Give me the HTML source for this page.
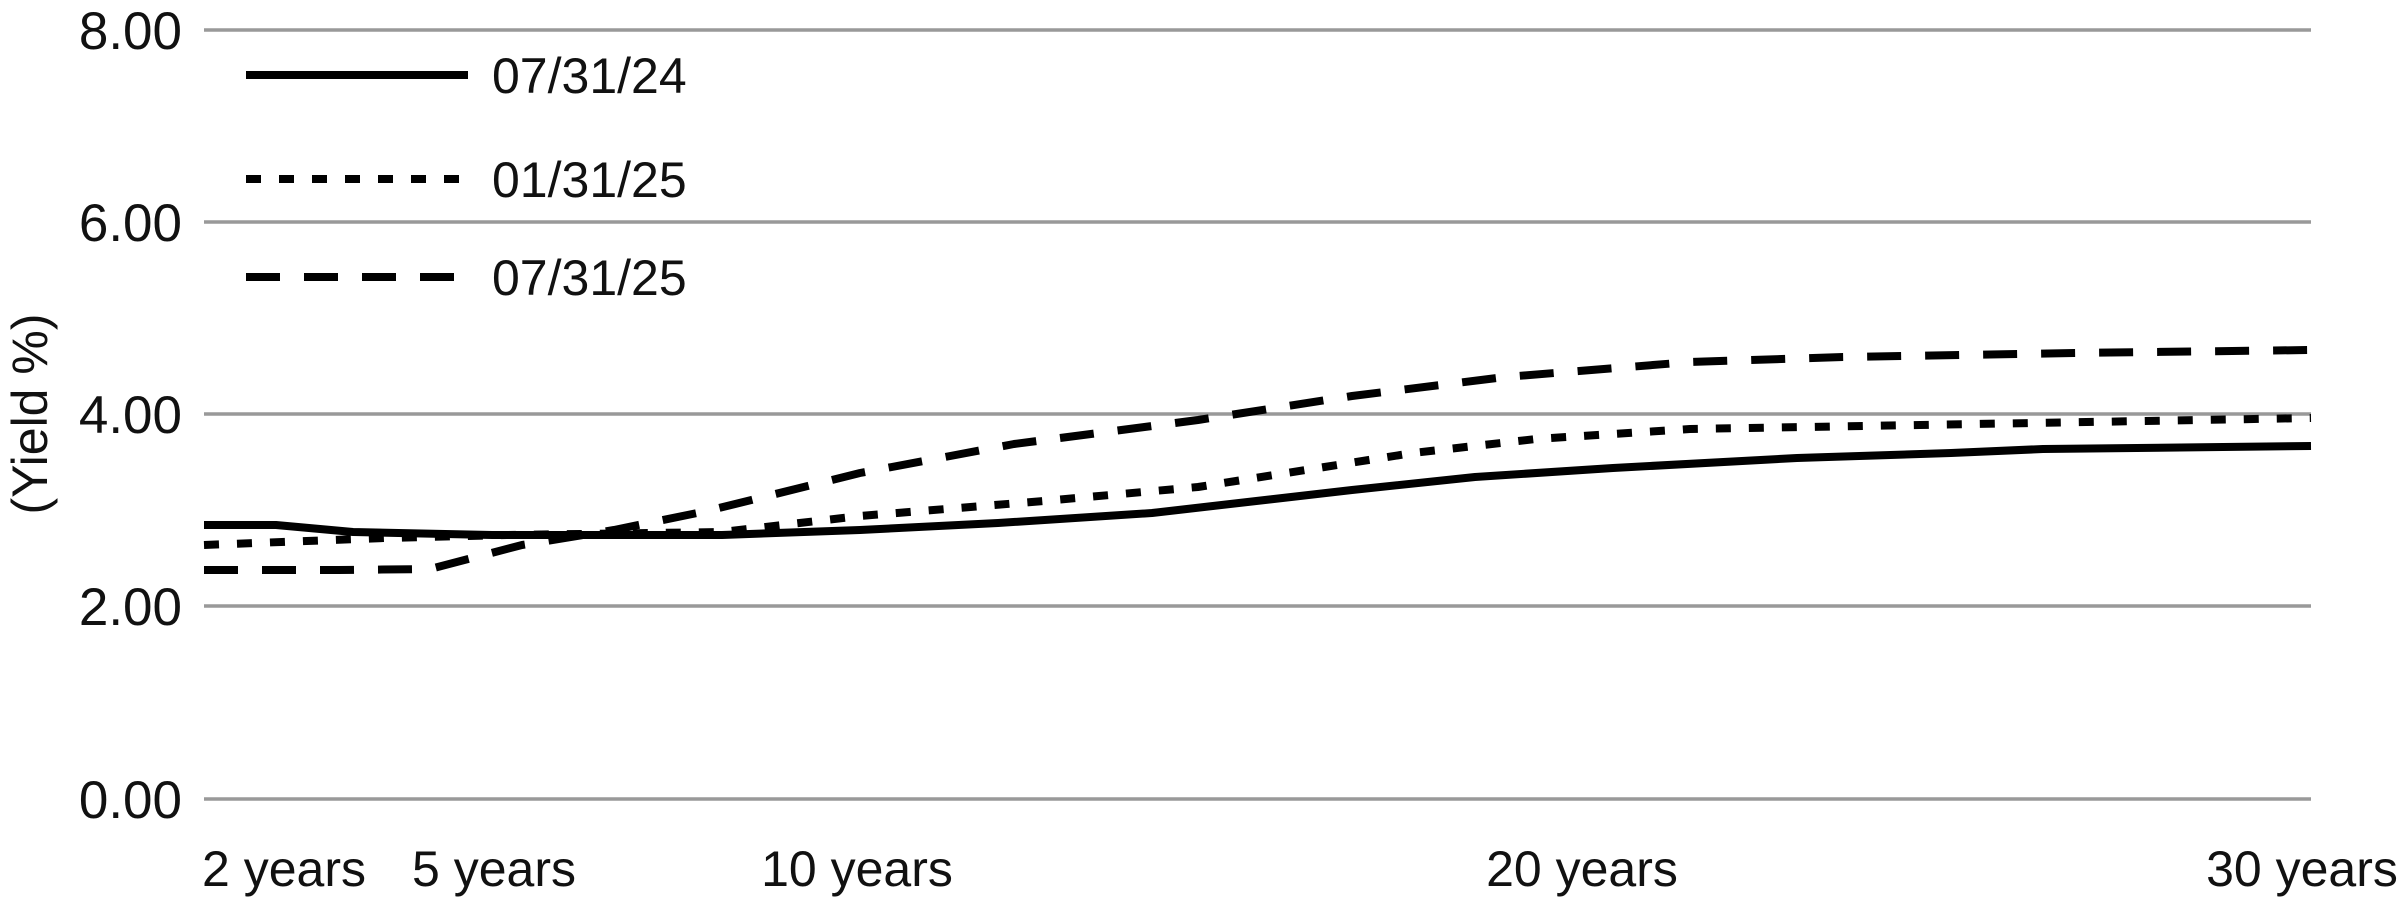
<!DOCTYPE html>
<html><head><meta charset="utf-8"><style>
html,body{margin:0;padding:0;background:#fff;}
svg{display:block;}
text{font-family:"Liberation Sans",Arial,sans-serif;fill:#111;}
</style></head><body>
<svg width="2408" height="908" viewBox="0 0 2408 908" xmlns="http://www.w3.org/2000/svg">
<g stroke="#999" stroke-width="3.5">
<line x1="204" y1="30" x2="2311" y2="30"/>
<line x1="204" y1="222" x2="2311" y2="222"/>
<line x1="204" y1="414" x2="2311" y2="414"/>
<line x1="204" y1="606" x2="2311" y2="606"/>
<line x1="204" y1="799" x2="2311" y2="799"/>
</g>
<g font-size="53" text-anchor="end">
<text x="182" y="49">8.00</text>
<text x="182" y="241">6.00</text>
<text x="182" y="433">4.00</text>
<text x="182" y="625">2.00</text>
<text x="182" y="818">0.00</text>
</g>
<text font-size="50" transform="translate(47 414) rotate(-90)" text-anchor="middle">(Yield %)</text>
<g font-size="50" text-anchor="middle">
<text x="284" y="886">2 years</text>
<text x="494" y="886">5 years</text>
<text x="857" y="886">10 years</text>
<text x="1582" y="886">20 years</text>
<text x="2302" y="886">30 years</text>
</g>
<g fill="none" stroke="#000" stroke-width="8" stroke-linejoin="round">
<polyline points="204,525 276,525 353,532 492,535 722,535 860,530 998,523 1152,513 1352,490 1475,477 1613,468 1797,458 1951,453 2043,449 2311,446"/>
<polyline stroke-dasharray="15 18" points="204,545 384,538 507,535 722,532 860,516 1044,501 1198,487 1413,453 1536,439 1690,429 1920,425 2311,418"/>
<polyline stroke-dasharray="34 24" points="204,570 338,570 430,569 522,545 614,530 707,511 860,473 1014,444 1198,420 1352,396 1505,377 1690,362 1843,357 2074,353 2311,350"/>
</g>
<g stroke="#000" stroke-width="8">
<line x1="246" y1="75" x2="468" y2="75"/>
<line x1="246" y1="179" x2="468" y2="179" stroke-dasharray="15 18"/>
<line x1="246" y1="277" x2="468" y2="277" stroke-dasharray="34 24"/>
</g>
<g font-size="50">
<text x="492" y="93">07/31/24</text>
<text x="492" y="197">01/31/25</text>
<text x="492" y="295">07/31/25</text>
</g>
</svg>
</body></html>
